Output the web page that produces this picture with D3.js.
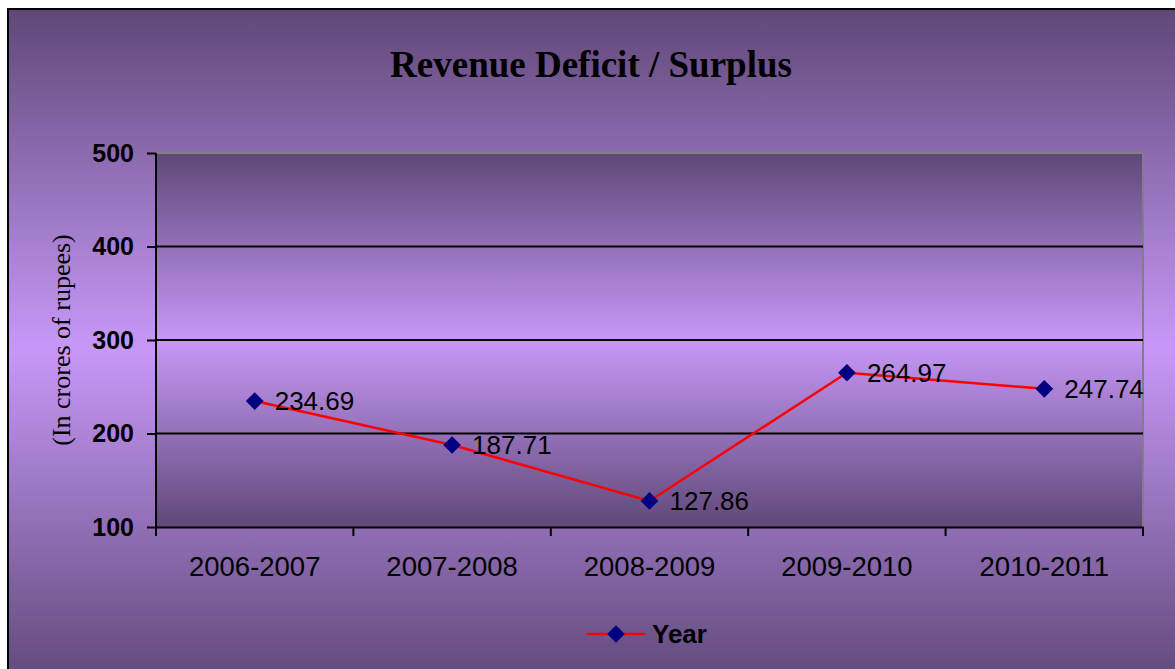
<!DOCTYPE html>
<html><head><meta charset="utf-8">
<script src="https://cdn.jsdelivr.net/npm/d3@7"></script>
<style>body{margin:0;background:#fff}svg{display:block}</style>
</head><body>
<script>
const categories = ["2006-2007","2007-2008","2008-2009","2009-2010","2010-2011"];
const values = [234.69,187.71,127.86,264.97,247.74];
const yTicks = [100,200,300,400,500];
const seriesName = "Year";
const title = "Revenue Deficit / Surplus";
const yTitle = "(In crores of rupees)";

const W = 1175, H = 669;
const svg = d3.select("body").append("svg").attr("width", W).attr("height", H);
const defs = svg.append("defs");
const dark = "#5f4878", light = "#c898f8";
function grad(id){
  const g = defs.append("linearGradient").attr("id", id).attr("x1",0).attr("y1",0).attr("x2",0).attr("y2",1);
  g.append("stop").attr("offset","0%").attr("stop-color",dark);
  g.append("stop").attr("offset","50%").attr("stop-color",light);
  g.append("stop").attr("offset","100%").attr("stop-color",dark);
}
grad("bgGrad"); grad("plotGrad");

svg.append("rect").attr("x",8).attr("y",9).attr("width",W+10).attr("height",H+10)
  .attr("fill","url(#bgGrad)").attr("stroke","#000").attr("stroke-width",2);

const L = 156, R = 1143, T = 153, B = 527;
const x = d3.scaleBand().domain(categories).range([L, R]);
const y = d3.scaleLinear().domain([100, 500]).range([B, T]);

svg.append("rect").attr("x",L).attr("y",T).attr("width",R-L).attr("height",B-T).attr("fill","url(#plotGrad)");
svg.append("path").attr("d",`M${L},${T}H${R}V${B}`).attr("fill","none").attr("stroke","#808080").attr("stroke-width",2);

svg.append("g").selectAll("line").data(yTicks.filter(d=>d>100 && d<500)).join("line")
  .attr("x1",L).attr("x2",R).attr("y1",d=>y(d)).attr("y2",d=>y(d))
  .attr("stroke","#000").attr("stroke-width",2);

const yAxis = svg.append("g").attr("transform",`translate(${L},0)`)
  .call(d3.axisLeft(y).tickValues(yTicks).tickSize(9).tickPadding(13).tickFormat(d3.format("d")));
yAxis.select(".domain").attr("stroke","#000").attr("stroke-width",2).attr("d",`M-0,${T}V${B}`);
yAxis.selectAll(".tick line").attr("stroke","#000").attr("stroke-width",2);
yAxis.selectAll("text").attr("font-family","Liberation Sans, Arial, sans-serif").attr("font-weight","bold")
  .attr("font-size",25).attr("fill","#000");

const xAxis = svg.append("g").attr("transform",`translate(0,${B})`)
  .call(d3.axisBottom(x).tickSize(0).tickPadding(29));
xAxis.select(".domain").attr("stroke","#000").attr("stroke-width",2);
xAxis.selectAll("text").attr("font-family","Liberation Sans, Arial, sans-serif").attr("font-size",27.5).attr("fill","#000");
const bounds = categories.map(c=>x(c)).concat([R]);
svg.append("g").selectAll("line").data(bounds).join("line")
  .attr("x1",d=>d).attr("x2",d=>d).attr("y1",B).attr("y2",B+9)
  .attr("stroke","#000").attr("stroke-width",2);

const cx = c => x(c) + x.bandwidth()/2;
const line = d3.line().x((d,i)=>cx(categories[i])).y(d=>y(d));
svg.append("path").datum(values).attr("d",line).attr("fill","none").attr("stroke","#ff0000").attr("stroke-width",2.5);

const diamond = d3.symbol().type(d3.symbolDiamond2).size(200);
svg.append("g").selectAll("path").data(values).join("path")
  .attr("d",diamond).attr("transform",(d,i)=>`translate(${cx(categories[i])},${y(d)})`)
  .attr("fill","#000080");

svg.append("g").selectAll("text").data(values).join("text")
  .attr("x",(d,i)=>cx(categories[i])+20).attr("y",d=>y(d)+9)
  .attr("font-family","Liberation Sans, Arial, sans-serif").attr("font-size",26).attr("fill","#000")
  .text(d=>d3.format(".2f")(d));

svg.append("text").attr("x",591).attr("y",77).attr("text-anchor","middle")
  .attr("font-family","Liberation Serif, Times New Roman, serif").attr("font-weight","bold").attr("font-size",37)
  .text(title);

svg.append("text").attr("transform",`translate(70,340) rotate(-90)`).attr("text-anchor","middle")
  .attr("font-family","Liberation Serif, Times New Roman, serif").attr("font-size",26)
  .text(yTitle);

const ly = 634;
svg.append("line").attr("x1",587).attr("x2",645).attr("y1",ly).attr("y2",ly).attr("stroke","#ff0000").attr("stroke-width",2.5);
svg.append("path").attr("d",diamond).attr("transform",`translate(616,${ly})`).attr("fill","#000080");
svg.append("text").attr("x",652).attr("y",ly+9).attr("font-family","Liberation Sans, Arial, sans-serif")
  .attr("font-weight","bold").attr("font-size",26).text(seriesName);
</script>
</body></html>
